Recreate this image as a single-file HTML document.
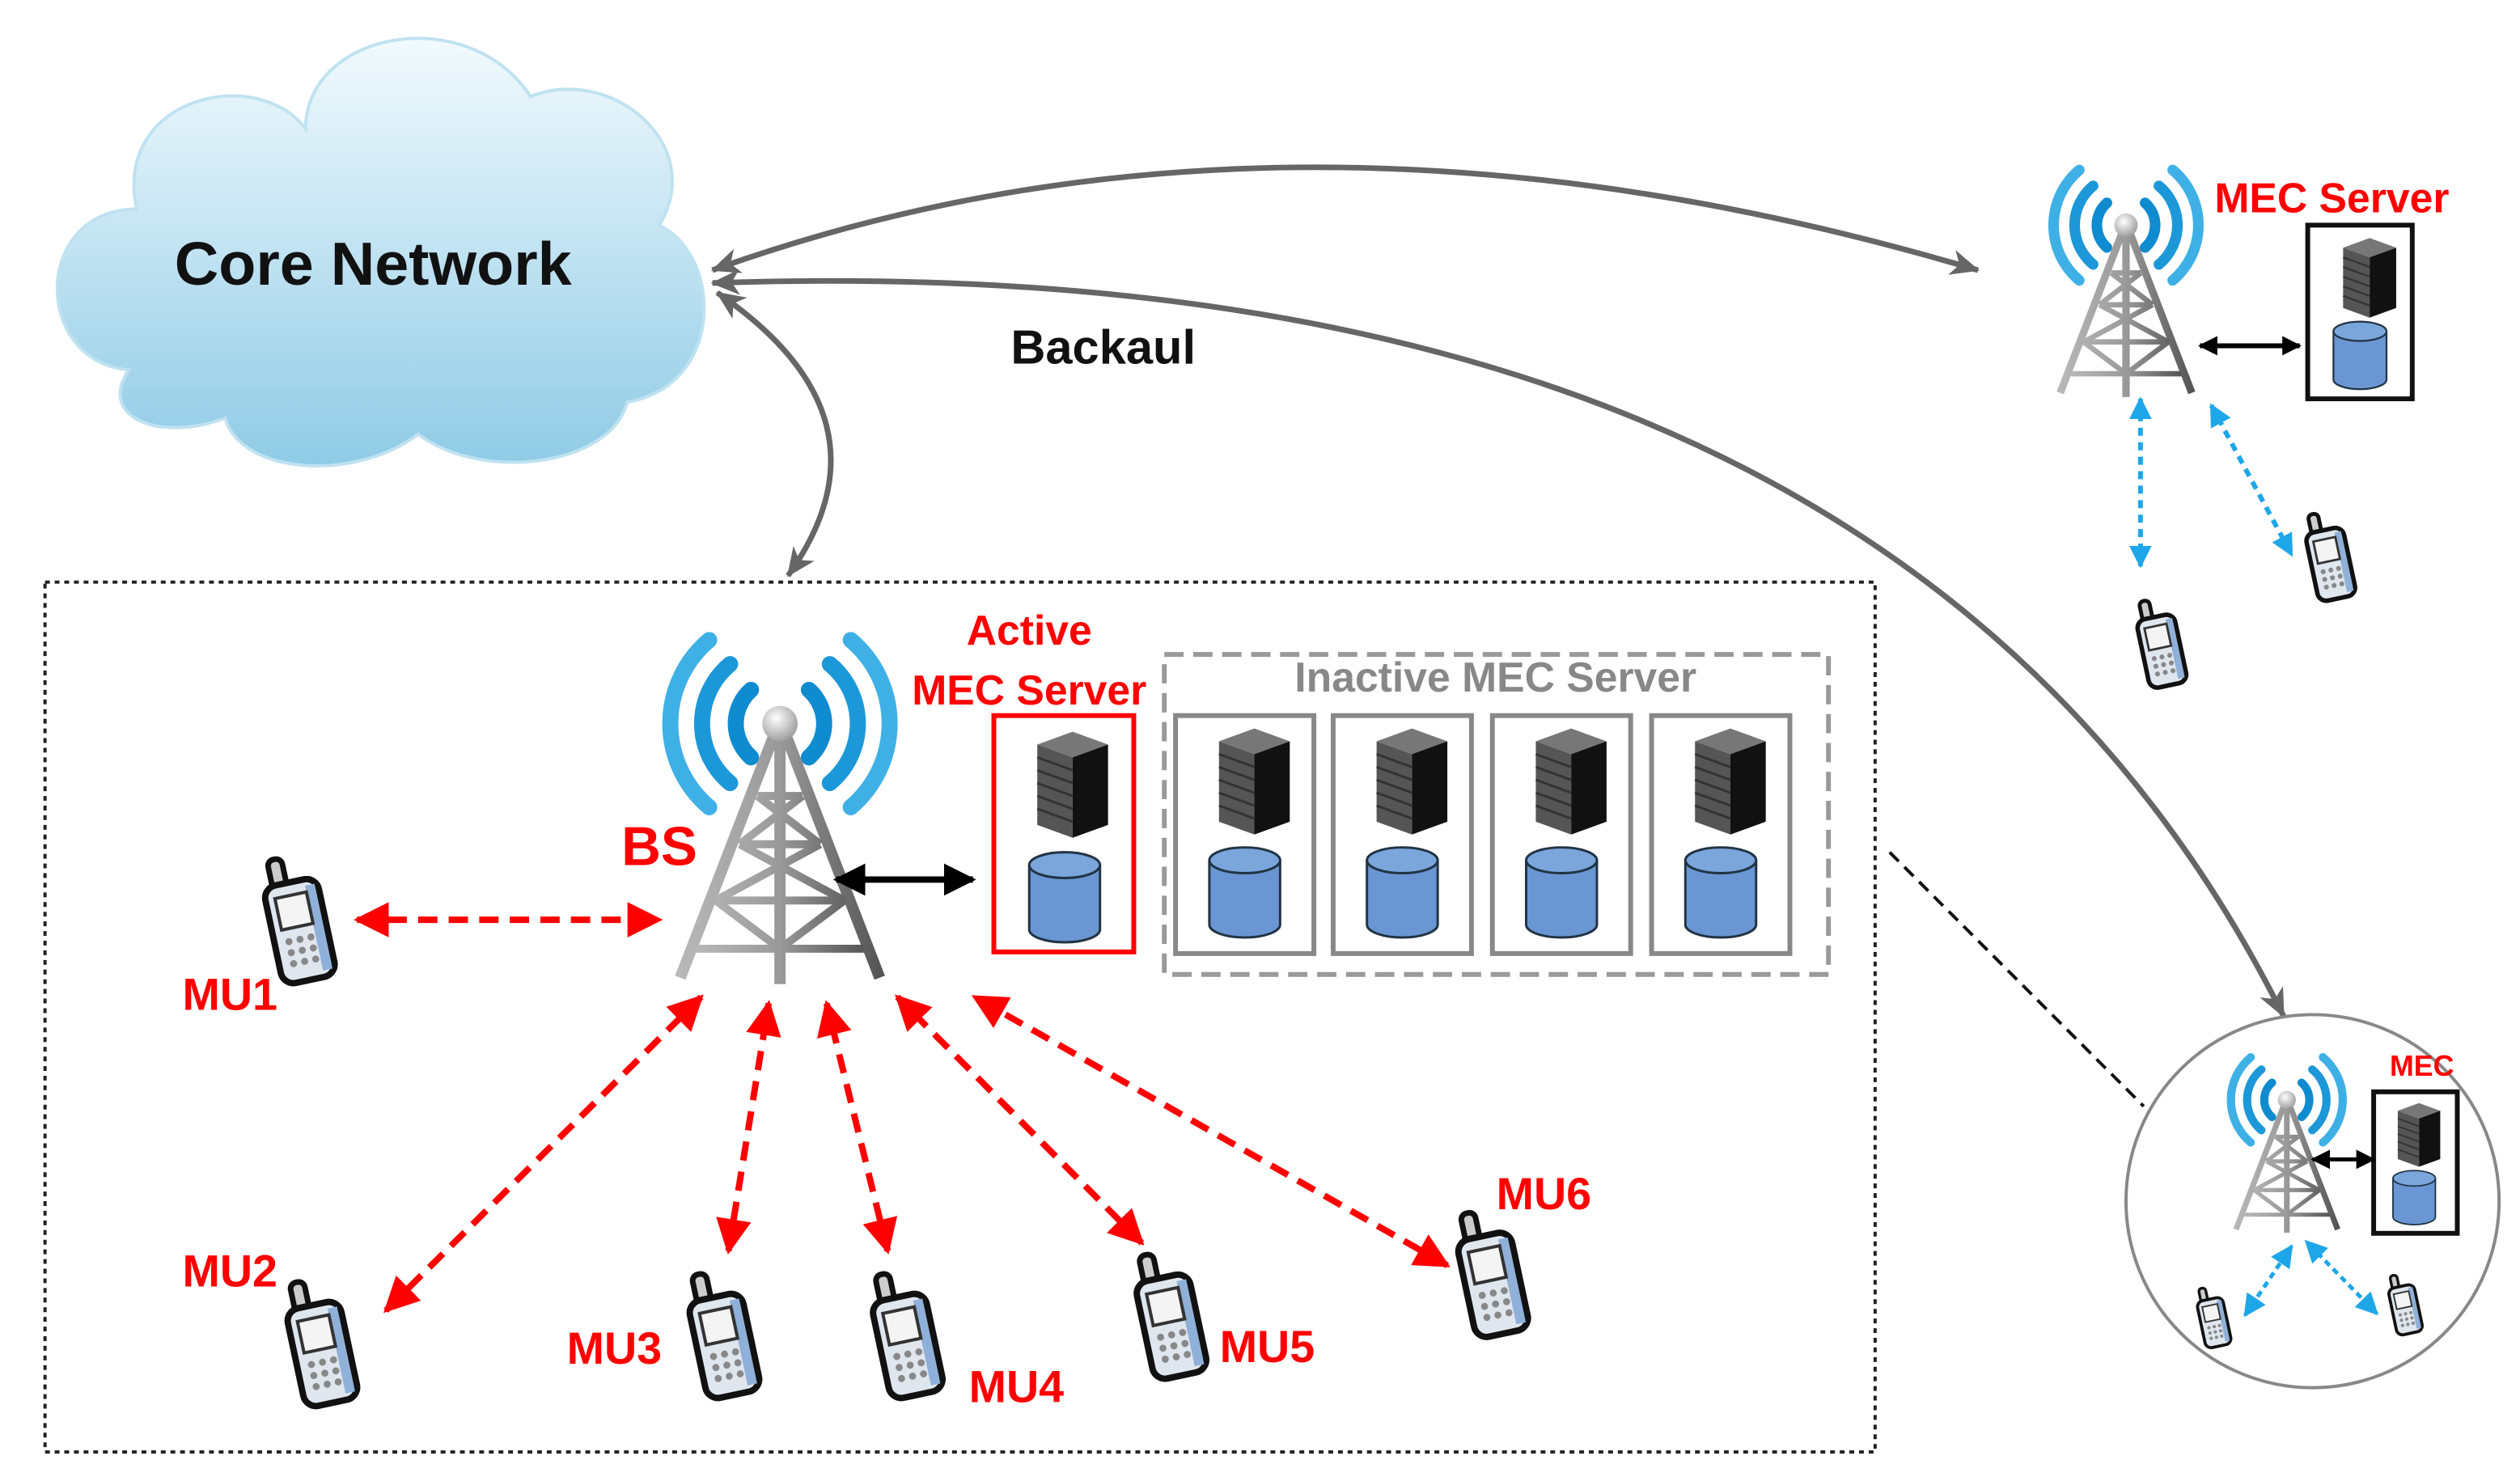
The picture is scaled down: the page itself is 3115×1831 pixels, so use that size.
<!DOCTYPE html>
<html><head><meta charset="utf-8"><style>html,body{margin:0;padding:0;background:#fff}svg{display:block}</style></head>
<body>
<svg width="3115" height="1831" viewBox="0 0 1567 921" xmlns="http://www.w3.org/2000/svg" font-family="Liberation Sans, sans-serif">
<defs>
<linearGradient id="cl" x1="0" y1="0" x2="0" y2="1"><stop offset="0" stop-color="#f2fafd"/><stop offset="1" stop-color="#8fcbe6"/></linearGradient>
<linearGradient id="tw" x1="0" y1="0" x2="1" y2="0"><stop offset="0" stop-color="#b8b8b8"/><stop offset="0.5" stop-color="#999"/><stop offset="1" stop-color="#555"/></linearGradient>
<radialGradient id="ball" cx="0.4" cy="0.35" r="0.7"><stop offset="0" stop-color="#fff"/><stop offset="1" stop-color="#999"/></radialGradient>
<marker id="ag" markerWidth="18" markerHeight="16" refX="17" refY="8" orient="auto-start-reverse" markerUnits="userSpaceOnUse" viewBox="0 0 18 16"><path d="M0,0 L18,8 L0,16 L5,8 z" fill="#666"/></marker>
<marker id="ar" viewBox="0 0 10 10" refX="9" refY="5" markerWidth="22" markerHeight="22" orient="auto-start-reverse" markerUnits="userSpaceOnUse"><path d="M0,0 L10,5 L0,10 z" fill="#f00"/></marker>
<marker id="ab" viewBox="0 0 10 10" refX="9" refY="5" markerWidth="20" markerHeight="20" orient="auto-start-reverse" markerUnits="userSpaceOnUse"><path d="M0,0 L10,5 L0,10 z" fill="#000"/></marker>
<marker id="ab2" viewBox="0 0 10 10" refX="9" refY="5" markerWidth="12" markerHeight="12" orient="auto-start-reverse" markerUnits="userSpaceOnUse"><path d="M0,0 L10,5 L0,10 z" fill="#000"/></marker>
<marker id="ac" viewBox="0 0 10 10" refX="9" refY="5" markerWidth="14" markerHeight="14" orient="auto-start-reverse" markerUnits="userSpaceOnUse"><path d="M0,0 L10,5 L0,10 z" fill="#1ea7e8"/></marker>
<g id="tower">
 <g fill="none" stroke-linecap="round">
  <path d="M-18,-21 A28,28 0 0 0 -18,21" stroke="#0f8bd0" stroke-width="10"/>
  <path d="M18,-21 A28,28 0 0 1 18,21" stroke="#0f8bd0" stroke-width="10"/>
  <path d="M-31,-37 A48,48 0 0 0 -31,37" stroke="#1c98d8" stroke-width="10"/>
  <path d="M31,-37 A48,48 0 0 1 31,37" stroke="#1c98d8" stroke-width="10"/>
  <path d="M-44,-52 A68,68 0 0 0 -44,52" stroke="#3fb0e6" stroke-width="10"/>
  <path d="M44,-52 A68,68 0 0 1 44,52" stroke="#3fb0e6" stroke-width="10"/>
 </g>
 <g stroke="url(#tw)" stroke-width="7" fill="none" stroke-linejoin="round">
  <path d="M-4,8 L-62,158 M4,8 L62,158 M0,10 L0,162"/>
  <path d="M-14,45 L14,45 M-25,75 L25,75 M-40,110 L40,110 M-14,45 L25,75 M14,45 L-25,75 M-25,75 L40,110 M25,75 L-40,110 M-40,110 L0,140 L40,110 M-52,140 L0,140 L52,140" stroke-width="5"/>
 </g>
 <circle cx="0" cy="0" r="11" fill="url(#ball)"/>
</g>
<g id="phone">
 <g transform="rotate(-12 20 40)">
  <rect x="8" y="0" width="9" height="22" rx="4" fill="#ccc" stroke="#111" stroke-width="3.5"/>
  <rect x="2" y="16" width="34" height="62" rx="8" fill="#dfe6ee" stroke="#111" stroke-width="4"/>
  <rect x="28" y="20" width="6" height="54" fill="#8fb0d8"/>
  <rect x="8" y="24" width="20" height="20" fill="#f4f4f4" stroke="#333" stroke-width="2"/>
  <g fill="#888"><circle cx="11" cy="52" r="2.2"/><circle cx="18" cy="52" r="2.2"/><circle cx="25" cy="52" r="2.2"/><circle cx="11" cy="59" r="2.2"/><circle cx="18" cy="59" r="2.2"/><circle cx="25" cy="59" r="2.2"/><circle cx="11" cy="66" r="2.2"/><circle cx="18" cy="66" r="2.2"/><circle cx="25" cy="66" r="2.2"/></g>
 </g>
</g>
<g id="rack">
 <polygon points="0,8 22,0 44,8 22,16" fill="#777"/>
 <polygon points="0,8 22,16 22,66 0,58" fill="#555"/>
 <polygon points="22,16 44,8 44,58 22,66" fill="#111"/>
 <g stroke="#333" stroke-width="1.5"><path d="M0,16 L22,24 M0,24 L22,32 M0,32 L22,40 M0,40 L22,48 M0,48 L22,56"/></g>
</g>
<g id="cyl">
 <path d="M0,8 L0,48 A22,8 0 0 0 44,48 L44,8" fill="#6a97d3" stroke="#234" stroke-width="1.5"/>
 <ellipse cx="22" cy="8" rx="22" ry="8" fill="#7aa6dc" stroke="#234" stroke-width="1.5"/>
</g>
</defs>

<!-- cloud -->
<g fill="url(#cl)" stroke="#bfe2f1" stroke-width="2">
 <path d="M80,230 C20,225 20,130 85,130 C70,60 160,40 190,80 C190,20 290,0 330,60 C380,40 440,90 410,140 C450,160 450,240 390,250 C380,290 300,300 260,270 C220,300 150,295 140,260 C100,275 60,260 80,230 Z"/>
</g>
<text x="232" y="177" font-size="38" font-weight="bold" text-anchor="middle" fill="#111">Core Network</text>

<!-- backhaul curves -->
<g fill="none" stroke="#666" stroke-width="3.5">
 <path d="M443,168 Q800,40 1230,168" marker-start="url(#ag)" marker-end="url(#ag)"/>
 <path d="M443,176 Q1180,150 1420,632" marker-start="url(#ag)" marker-end="url(#ag)"/>
 <path d="M446,182 Q560,260 490,358" marker-start="url(#ag)" marker-end="url(#ag)"/>
</g>
<text x="686" y="226" font-size="30" font-weight="bold" text-anchor="middle" fill="#111">Backaul</text>

<!-- main dotted box -->
<rect x="28" y="362" width="1138" height="541" fill="none" stroke="#222" stroke-width="2" stroke-dasharray="3 3"/>

<!-- BS -->
<use href="#tower" transform="translate(485,450)"/>
<text x="410" y="538" font-size="34" font-weight="bold" text-anchor="middle" fill="#f00">BS</text>
<text x="640" y="401" font-size="26" font-weight="bold" text-anchor="middle" fill="#f00">Active</text>
<text x="640" y="438" font-size="26" font-weight="bold" text-anchor="middle" fill="#f00">MEC Server</text>
<rect x="618" y="445" width="87" height="147" fill="none" stroke="#f00" stroke-width="3"/>
<use href="#rack" transform="translate(645,455)"/>
<use href="#cyl" transform="translate(640,530)"/>
<line x1="520" y1="547" x2="605" y2="547" stroke="#000" stroke-width="4" marker-start="url(#ab)" marker-end="url(#ab)"/>

<!-- inactive -->
<rect x="724" y="407" width="413" height="199" fill="none" stroke="#999" stroke-width="3" stroke-dasharray="12 6"/>
<text x="930" y="430" font-size="26" font-weight="bold" text-anchor="middle" fill="#888">Inactive MEC Server</text>
<g fill="none" stroke="#888" stroke-width="3">
 <rect x="731" y="445" width="86" height="148"/><rect x="829" y="445" width="86" height="148"/>
 <rect x="928" y="445" width="86" height="148"/><rect x="1027" y="445" width="86" height="148"/>
</g>
<use href="#rack" transform="translate(758,453)"/><use href="#cyl" transform="translate(752,527)"/>
<use href="#rack" transform="translate(856,453)"/><use href="#cyl" transform="translate(850,527)"/>
<use href="#rack" transform="translate(955,453)"/><use href="#cyl" transform="translate(949,527)"/>
<use href="#rack" transform="translate(1054,453)"/><use href="#cyl" transform="translate(1048,527)"/>

<!-- phones -->
<use href="#phone" transform="translate(166,532)"/>
<use href="#phone" transform="translate(180,795)"/>
<use href="#phone" transform="translate(430,790)"/>
<use href="#phone" transform="translate(544,790)"/>
<use href="#phone" transform="translate(708,778)"/>
<use href="#phone" transform="translate(908,752)"/>
<g font-size="28" font-weight="bold" fill="#f00" text-anchor="middle">
 <text x="143" y="628">MU1</text><text x="143" y="800">MU2</text><text x="382" y="848">MU3</text>
 <text x="632" y="872">MU4</text><text x="788" y="847">MU5</text><text x="960" y="752">MU6</text>
</g>
<!-- red arrows -->
<g stroke="#f00" stroke-width="4" stroke-dasharray="12 7" fill="none">
 <line x1="222" y1="572" x2="410" y2="572" marker-start="url(#ar)" marker-end="url(#ar)"/>
 <line x1="240" y1="815" x2="436" y2="620" marker-start="url(#ar)" marker-end="url(#ar)"/>
 <line x1="453" y1="778" x2="478" y2="624" marker-start="url(#ar)" marker-end="url(#ar)"/>
 <line x1="552" y1="778" x2="514" y2="624" marker-start="url(#ar)" marker-end="url(#ar)"/>
 <line x1="710" y1="773" x2="558" y2="620" marker-start="url(#ar)" marker-end="url(#ar)"/>
 <line x1="900" y1="787" x2="606" y2="620" marker-start="url(#ar)" marker-end="url(#ar)"/>
</g>

<!-- top right -->
<use href="#tower" transform="translate(1322,140) scale(0.66)"/>
<text x="1450" y="132" font-size="26" font-weight="bold" text-anchor="middle" fill="#f00">MEC Server</text>
<rect x="1435" y="140" width="65" height="108" fill="none" stroke="#111" stroke-width="3"/>
<use href="#rack" transform="translate(1457,148) scale(0.75)"/>
<use href="#cyl" transform="translate(1451,200) scale(0.75)"/>
<line x1="1368" y1="215" x2="1430" y2="215" stroke="#000" stroke-width="3" marker-start="url(#ab2)" marker-end="url(#ab2)"/>
<g stroke="#1ea7e8" stroke-width="3" stroke-dasharray="5 4" fill="none">
 <line x1="1331" y1="248" x2="1331" y2="352" marker-start="url(#ac)" marker-end="url(#ac)"/>
 <line x1="1375" y1="252" x2="1425" y2="345" marker-start="url(#ac)" marker-end="url(#ac)"/>
</g>
<use href="#phone" transform="translate(1330,372) scale(0.7)"/>
<use href="#phone" transform="translate(1435,318) scale(0.7)"/>

<!-- circle -->
<line x1="1175" y1="530" x2="1333" y2="688" stroke="#111" stroke-width="2" stroke-dasharray="8 5"/>
<circle cx="1438" cy="747" r="116" fill="#fff" stroke="#888" stroke-width="2"/>
<use href="#tower" transform="translate(1422,684) scale(0.51)"/>
<text x="1506" y="669" font-size="18" font-weight="bold" text-anchor="middle" fill="#f00">MEC</text>
<rect x="1476" y="679" width="52" height="88" fill="none" stroke="#111" stroke-width="3"/>
<use href="#rack" transform="translate(1491,686) scale(0.6)"/>
<use href="#cyl" transform="translate(1488,728) scale(0.6)"/>
<line x1="1438" y1="721" x2="1476" y2="721" stroke="#000" stroke-width="2.5" marker-start="url(#ab2)" marker-end="url(#ab2)"/>
<g stroke="#1ea7e8" stroke-width="2.5" stroke-dasharray="4 3" fill="none">
 <line x1="1396" y1="818" x2="1425" y2="775" marker-start="url(#ac)" marker-end="url(#ac)"/>
 <line x1="1478" y1="817" x2="1434" y2="772" marker-start="url(#ac)" marker-end="url(#ac)"/>
</g>
<use href="#phone" transform="translate(1367,800) scale(0.48)"/>
<use href="#phone" transform="translate(1486,792) scale(0.48)"/>
</svg>
</body></html>
